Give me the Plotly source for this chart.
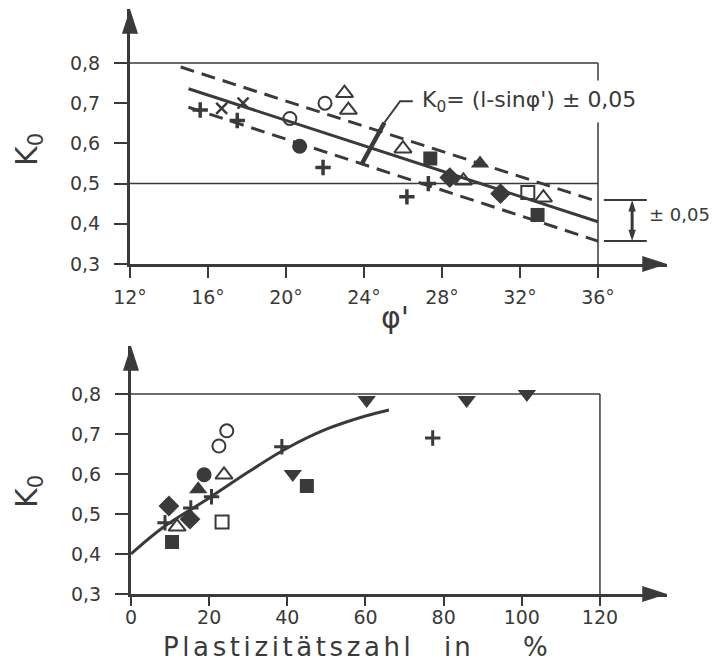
import plotly.graph_objects as go

INK = '#3a3a3a'
W, H = 714, 667
FONT = 'DejaVu Sans'

# ---------------- data: upper chart (K0 vs phi') ----------------
phi_tickvals = [12, 16, 20, 24, 28, 32, 36]
phi_ticktext = ['12°', '16°', '20°', '24°', '28°', '32°', '36°']
k_tickvals = [0.3, 0.4, 0.5, 0.6, 0.7, 0.8]
k_ticktext = ['0,3', '0,4', '0,5', '0,6', '0,7', '0,8']

phi_mean = [15.0, 36.0]
k_mean = [0.736, 0.405]
phi_upper = [14.6, 36.0]
k_upper = [0.79, 0.455]
phi_lower = [15.0, 36.0]
k_lower = [0.69, 0.357]

top_plus_phi = [15.6, 17.5, 21.9, 26.2, 27.3]
top_plus_k = [0.683, 0.657, 0.54, 0.467, 0.50]
top_x_phi = [16.7, 17.8]
top_x_k = [0.687, 0.70]
top_circ_open_phi = [20.2, 22.0]
top_circ_open_k = [0.662, 0.70]
top_circ_fill_phi = [20.7]
top_circ_fill_k = [0.593]
top_tri_open_phi = [23.0, 23.2, 26.0, 29.1, 33.2]
top_tri_open_k = [0.725, 0.683, 0.587, 0.507, 0.465]
top_tri_fill_phi = [29.95]
top_tri_fill_k = [0.55]
top_sq_fill_phi = [27.4, 32.9]
top_sq_fill_k = [0.5625, 0.422]
top_sq_open_phi = [32.4]
top_sq_open_k = [0.478]
top_diam_phi = [28.4, 31.0]
top_diam_k = [0.515, 0.475]

# ---------------- data: lower chart (K0 vs plasticity index) ----------------
ip_tickvals = [0, 20, 40, 60, 80, 100, 120]
ip_ticktext = ['0', '20', '40', '60', '80', '100', '120']

curve_ip = [0, 8, 20, 30, 40, 50, 60, 66]
curve_k = [0.40, 0.465, 0.54, 0.605, 0.665, 0.712, 0.745, 0.76]

bot_plus_ip = [8.7, 15.3, 20.6, 38.6, 77.2]
bot_plus_k = [0.478, 0.515, 0.543, 0.668, 0.69]
bot_circ_open_ip = [22.5, 24.5]
bot_circ_open_k = [0.67, 0.708]
bot_circ_fill_ip = [18.7]
bot_circ_fill_k = [0.598]
bot_tri_open_ip = [11.8, 23.8]
bot_tri_open_k = [0.468, 0.598]
bot_tri_fill_ip = [17.2]
bot_tri_fill_k = [0.562]
bot_tri_down_ip = [41.4, 60.3, 85.9, 101.3]
bot_tri_down_k = [0.60, 0.785, 0.785, 0.80]
bot_sq_fill_ip = [10.5, 45.0]
bot_sq_fill_k = [0.43, 0.57]
bot_sq_open_ip = [23.3]
bot_sq_open_k = [0.48]
bot_diam_ip = [9.7, 15.1]
bot_diam_k = [0.52, 0.487]

# ---------------- geometry (pixels -> paper) ----------------
def px(x):
    return x / W

def py(y):
    return 1 - y / H

TOP_X0, TOP_X1 = 130, 667
TOP_Y0, TOP_Y1 = 264, 9
top_xrange = [12, 12 + (TOP_X1 - TOP_X0) / 19.5]
top_yrange = [0.3, 0.3 + (TOP_Y0 - TOP_Y1) / 402]

BOT_X0, BOT_X1 = 131, 667
BOT_Y0, BOT_Y1 = 594, 346
bot_xrange = [0, (BOT_X1 - BOT_X0) / 3.908]
bot_yrange = [0.3, 0.3 + (BOT_Y0 - BOT_Y1) / 400]

fig = go.Figure()

def line(xs, ys, xa='x', ya='y', width=3, dash='solid'):
    fig.add_trace(go.Scatter(x=xs, y=ys, mode='lines', xaxis=xa, yaxis=ya,
                             line=dict(color=INK, width=width, dash=dash),
                             hoverinfo='skip', showlegend=False))

def pts(xs, ys, symbol, size, xa='x', ya='y', lw=2, angle=0):
    fig.add_trace(go.Scatter(x=xs, y=ys, mode='markers', xaxis=xa, yaxis=ya,
                             marker=dict(symbol=symbol, size=size, color=INK, angle=angle,
                                         line=dict(color=INK, width=lw)),
                             cliponaxis=False, hoverinfo='skip', showlegend=False))

# ---- upper chart frame lines ----
line([12, 36], [0.8, 0.8], width=1.5)
line([12, 36], [0.5, 0.5], width=1.5)
line([36, 36], [0.3, 0.8], width=1.5)

# theory line and +-0.05 band
line(phi_mean, k_mean, width=3)
line(phi_upper, k_upper, width=3, dash='14px,8px')
line(phi_lower, k_lower, width=3, dash='14px,8px')

# leader to formula label
line([23.9, 25.05], [0.55, 0.652], width=4.5)
line([25.05, 25.85, 26.5], [0.652, 0.705, 0.705], width=2)

# +-0.05 bracket on the right
line([36.3, 38.5], [0.459, 0.459], width=2)
line([36.3, 38.5], [0.357, 0.357], width=2)
line([37.75, 37.75], [0.37, 0.446], width=3)
pts([37.75], [0.459], 'arrow', 12, lw=0)
pts([37.75], [0.357], 'arrow', 12, lw=0, angle=180)

# upper data points
pts(top_plus_phi, top_plus_k, 'cross-thin', 11, lw=3.5)
pts(top_x_phi, top_x_k, 'x-thin', 11, lw=2.5)
pts(top_circ_open_phi, top_circ_open_k, 'circle-open', 13, lw=2)
pts(top_circ_fill_phi, top_circ_fill_k, 'circle', 15, lw=0)
pts(top_tri_open_phi, top_tri_open_k, 'triangle-up-open', 15, lw=2)
pts(top_tri_fill_phi, top_tri_fill_k, 'triangle-up', 16, lw=0)
pts(top_sq_fill_phi, top_sq_fill_k, 'square', 14, lw=0)
pts(top_sq_open_phi, top_sq_open_k, 'square-open', 13, lw=2)
pts(top_diam_phi, top_diam_k, 'diamond', 16, lw=0)

# upper axis arrowheads
pts([12], [top_yrange[1]], 'arrow', 26, lw=0, angle=0)
pts([top_xrange[1]], [0.3], 'arrow', 26, lw=0, angle=90)

# ---- lower chart ----
X2, Y2 = 'x2', 'y2'
line([0, 120], [0.8, 0.8], X2, Y2, width=1.5)
line([120, 120], [0.3, 0.8], X2, Y2, width=1.5)
fig.add_trace(go.Scatter(x=curve_ip, y=curve_k, mode='lines', xaxis=X2, yaxis=Y2,
                         line=dict(color=INK, width=3, shape='spline'),
                         hoverinfo='skip', showlegend=False))

pts(bot_plus_ip, bot_plus_k, 'cross-thin', 11, X2, Y2, lw=3)
pts(bot_circ_open_ip, bot_circ_open_k, 'circle-open', 13, X2, Y2, lw=2)
pts(bot_circ_fill_ip, bot_circ_fill_k, 'circle', 15, X2, Y2, lw=0)
pts(bot_tri_open_ip, bot_tri_open_k, 'triangle-up-open', 15, X2, Y2, lw=2)
pts(bot_tri_fill_ip, bot_tri_fill_k, 'triangle-up', 16, X2, Y2, lw=0)
pts(bot_tri_down_ip, bot_tri_down_k, 'triangle-down', 16, X2, Y2, lw=0)
pts(bot_sq_fill_ip, bot_sq_fill_k, 'square', 14, X2, Y2, lw=0)
pts(bot_sq_open_ip, bot_sq_open_k, 'square-open', 13, X2, Y2, lw=2)
pts(bot_diam_ip, bot_diam_k, 'diamond', 16, X2, Y2, lw=0)

pts([0], [bot_yrange[1]], 'arrow', 26, X2, Y2, lw=0, angle=0)
pts([bot_xrange[1]], [0.3], 'arrow', 26, X2, Y2, lw=0, angle=90)

tickfont = dict(family=FONT, size=19, color=INK)
common = dict(showgrid=False, zeroline=False, showline=True, linewidth=3,
              linecolor=INK, ticks='outside', tickwidth=2,
              tickcolor=INK, tickfont=tickfont, fixedrange=True, automargin=False)

fig.update_layout(
    width=W, height=H, margin=dict(l=0, r=0, t=0, b=0, autoexpand=False),
    paper_bgcolor='white', plot_bgcolor='white', showlegend=False,
    xaxis=dict(domain=[px(TOP_X0), px(TOP_X1)], range=top_xrange, anchor='y',
               tickvals=phi_tickvals, ticktext=phi_ticktext, ticklen=11,
               ticklabelstandoff=3, **common),
    yaxis=dict(domain=[py(TOP_Y0), py(TOP_Y1)], range=top_yrange, anchor='x',
               tickvals=k_tickvals, ticktext=k_ticktext, ticklen=13,
               ticklabelstandoff=10, **common),
    xaxis2=dict(domain=[px(BOT_X0), px(BOT_X1)], range=bot_xrange, anchor='y2',
                tickvals=ip_tickvals, ticktext=ip_ticktext, ticklen=9,
                ticklabelstandoff=-5, **common),
    yaxis2=dict(domain=[py(BOT_Y0), py(BOT_Y1)], range=bot_yrange, anchor='x2',
                tickvals=k_tickvals, ticktext=k_ticktext, ticklen=13,
                ticklabelstandoff=10, **common),
)

def txt(x, y, text, size, angle=0, xanchor='center', **kw):
    fig.add_annotation(x=x, y=y, xref='paper', yref='paper', text=text, showarrow=False,
                       textangle=angle, xanchor=xanchor, yanchor='middle',
                       font=dict(family=FONT, size=size, color=INK), **kw)

txt(px(28), py(150), 'K<sub>0</sub>', 30, angle=-90)
txt(px(395), py(318), "φ'", 30)
txt(px(28), py(492), 'K<sub>0</sub>', 30, angle=-90)
txt(px(288), py(647), '<span style="letter-spacing:3.6px">Plastizitätszahl</span>', 26)
txt(px(459), py(647), '<span style="letter-spacing:3px">in</span>', 26)
txt(px(535), py(647), '%', 26)
txt(px(647), py(214), '± 0,05', 18, xanchor='left')

fig.add_annotation(x=26.6, y=0.705, xref='x', yref='y', text="K<sub>0</sub>= (l-sinφ') ± 0,05",
                   showarrow=False, xanchor='left', yanchor='middle', bgcolor='white',
                   borderpad=6, font=dict(family=FONT, size=22, color=INK))

fig.write_html('out.html')
